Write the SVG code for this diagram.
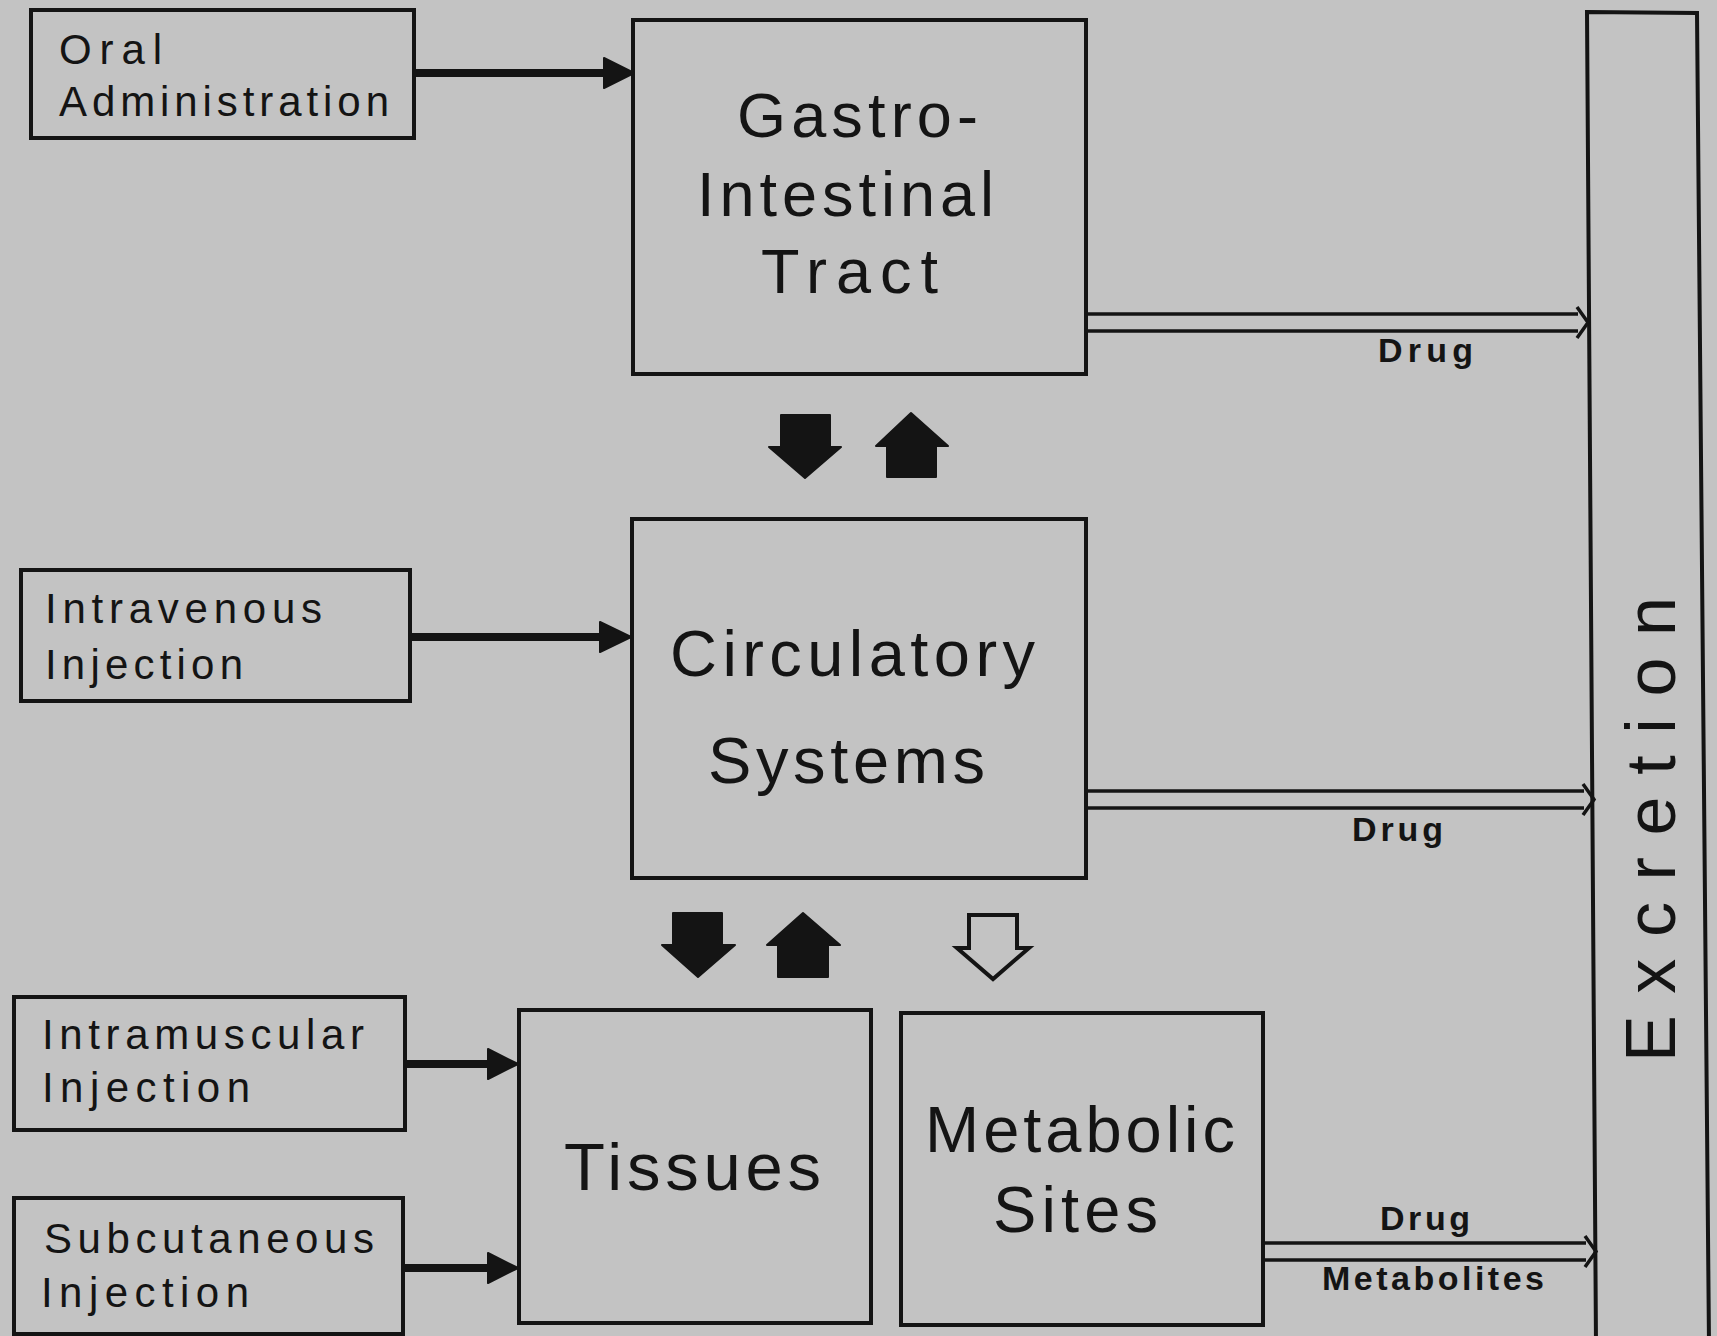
<svg xmlns="http://www.w3.org/2000/svg" width="1717" height="1336" viewBox="0 0 1717 1336">
<style>
.box{fill:none;stroke:#141414;stroke-width:4}
.t{font-family:"Liberation Sans",Arial,sans-serif;fill:#141414;lengthAdjust:spacing}
.big{font-size:63px}
.sm{font-size:42px}
.lb{font-size:34px;font-weight:bold}
.thick{stroke:#141414;stroke-width:8;fill:none}
.dbl{stroke:#141414;stroke-width:3.5;fill:none}
.blk{fill:#141414;stroke:#141414;stroke-width:2;stroke-linejoin:round}
.hol{fill:none;stroke:#141414;stroke-width:4;stroke-linejoin:miter}
</style>
<rect x="0" y="0" width="1717" height="1336" fill="#c3c3c3"/>

<g id="oral">
<rect class="box" x="31" y="10" width="383" height="128"/>
<text class="t sm" x="59" y="64" textLength="103">Oral</text>
<text class="t sm" x="59" y="116" textLength="330">Administration</text>
</g>
<g id="gi">
<rect class="box" x="633" y="20" width="453" height="354"/>
<text class="t big" x="737" y="137" textLength="241">Gastro-</text>
<text class="t big" x="697" y="216" textLength="297">Intestinal</text>
<text class="t big" x="761" y="293" textLength="177">Tract</text>
</g>
<g id="iv">
<rect class="box" x="21" y="570" width="389" height="131"/>
<text class="t sm" x="45" y="623" textLength="277">Intravenous</text>
<text class="t sm" x="45" y="679" textLength="198">Injection</text>
</g>
<g id="circ">
<rect class="box" x="632" y="519" width="454" height="359"/>
<text class="t big" x="670" y="676" textLength="365" style="font-size:65px">Circulatory</text>
<text class="t big" x="708" y="783" textLength="277" style="font-size:65px">Systems</text>
</g>
<g id="im">
<rect class="box" x="14" y="997" width="391" height="133"/>
<text class="t sm" x="42" y="1049" textLength="322">Intramuscular</text>
<text class="t sm" x="42" y="1102" textLength="208">Injection</text>
</g>
<g id="sc">
<rect class="box" x="14" y="1198" width="389" height="136"/>
<text class="t sm" x="44" y="1253" textLength="330">Subcutaneous</text>
<text class="t sm" x="41" y="1307" textLength="208">Injection</text>
</g>
<g id="tissues">
<rect class="box" x="519" y="1010" width="352" height="313"/>
<text class="t big" x="564" y="1190" textLength="257" style="font-size:67px">Tissues</text>
</g>
<g id="metabolic">
<rect class="box" x="901" y="1013" width="362" height="312"/>
<text class="t big" x="925" y="1152" textLength="310" style="font-size:65px">Metabolic</text>
<text class="t big" x="993" y="1232" textLength="165" style="font-size:65px">Sites</text>
</g>
<g id="excretion">
<polygon class="box" points="1587,12 1697,13 1709,1345 1596,1345"/>
<text class="t" style="font-size:70px" transform="translate(1675,1062) rotate(-90)" x="0" y="0" textLength="465">Excretion</text>
</g>

<g id="connectors">
<line class="thick" x1="414" y1="73" x2="606" y2="73"/>
<path class="blk" d="M604,58 L634,73 L604,88 z"/>
<line class="thick" x1="410" y1="637" x2="602" y2="637"/>
<path class="blk" d="M600,622 L631,637 L600,652 z"/>
<line class="thick" x1="405" y1="1064" x2="490" y2="1064"/>
<path class="blk" d="M488,1049 L518,1064 L488,1079 z"/>
<line class="thick" x1="403" y1="1268" x2="490" y2="1268"/>
<path class="blk" d="M488,1253 L518,1268 L488,1283 z"/>

<line class="dbl" x1="1086" y1="314" x2="1578" y2="314"/>
<line class="dbl" x1="1086" y1="331" x2="1578" y2="331"/>
<path class="dbl" d="M1577,307 L1588,322.5 L1577,338"/>
<text class="t lb" x="1378" y="362" textLength="95">Drug</text>

<line class="dbl" x1="1086" y1="791" x2="1584" y2="791"/>
<line class="dbl" x1="1086" y1="808" x2="1584" y2="808"/>
<path class="dbl" d="M1583,784 L1594,799.5 L1583,815"/>
<text class="t lb" x="1352" y="841" textLength="91">Drug</text>

<line class="dbl" x1="1263" y1="1243" x2="1586" y2="1243"/>
<line class="dbl" x1="1263" y1="1260" x2="1586" y2="1260"/>
<path class="dbl" d="M1585,1236 L1596,1251.5 L1585,1267"/>
<text class="t lb" x="1380" y="1230" textLength="90">Drug</text>
<text class="t lb" x="1322" y="1290" textLength="222">Metabolites</text>

<path class="blk" d="M781,415 L830,415 L830,447 L841,447 L805,478 L769,447 L781,447 z"/>
<path class="blk" d="M911,413 L948,446 L936,446 L936,477 L887,477 L887,446 L876,446 z"/>
<path class="blk" d="M673,913 L722,913 L722,945 L735,945 L698,977 L662,945 L673,945 z"/>
<path class="blk" d="M803,913 L840,945 L828,945 L828,977 L778,977 L778,945 L767,945 z"/>
<path class="hol" d="M969,915 L1017,915 L1017,948 L1029,948 L993,979 L957,948 L969,948 z"/>
</g>
</svg>
